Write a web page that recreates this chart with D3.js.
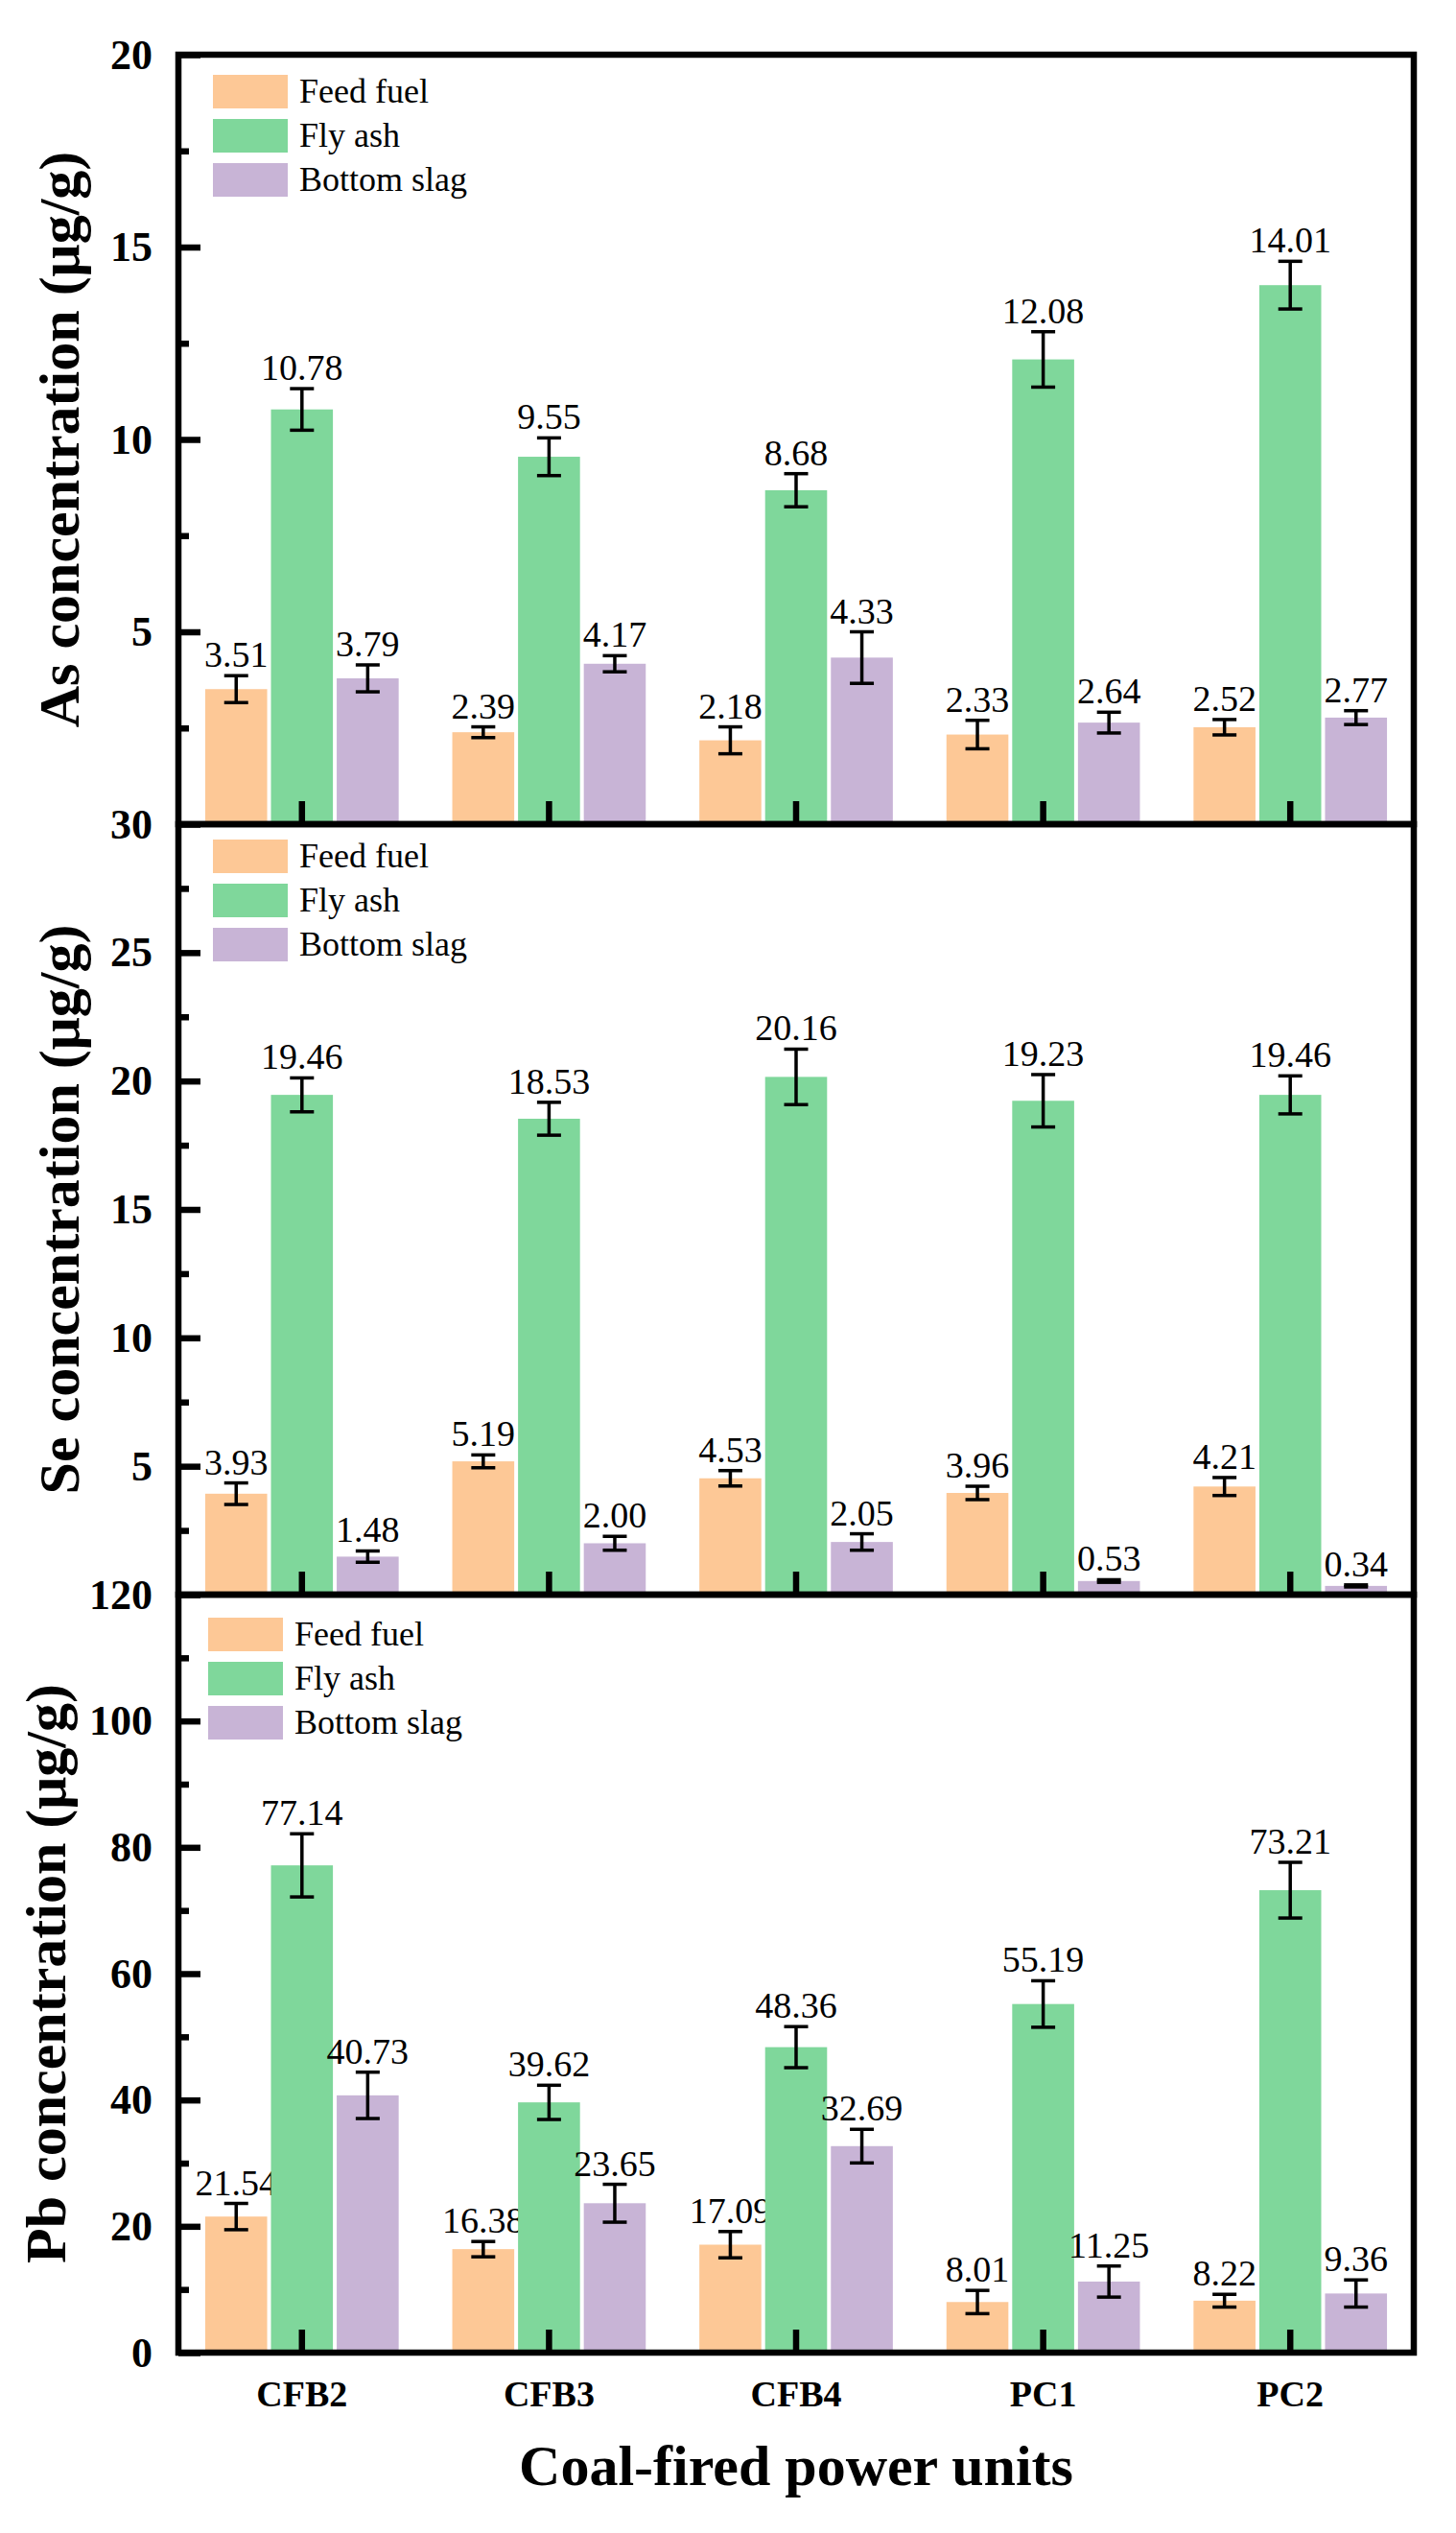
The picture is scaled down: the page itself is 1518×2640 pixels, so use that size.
<!DOCTYPE html>
<html>
<head>
<meta charset="utf-8">
<script src="https://cdn.jsdelivr.net/npm/d3@7"></script>
<style>
  body { margin: 0; background: #fff; }
  svg text { font-family: "Times New Roman", "Liberation Serif", serif; }
</style>
</head>
<body>
<svg class="chart"></svg>
<script>
// Data
const categories = ["CFB2", "CFB3", "CFB4", "PC1", "PC2"];
const seriesNames = ["Feed fuel", "Fly ash", "Bottom slag"];
const colors = ["#FDC896", "#7FD79B", "#C8B4D6"];

// rows: Feed fuel, Fly ash, Bottom slag
const asValues = [
  [3.51, 2.39, 2.18, 2.33, 2.52],
  [10.78, 9.55, 8.68, 12.08, 14.01],
  [3.79, 4.17, 4.33, 2.64, 2.77]
];
const asErrors = [
  [0.35, 0.14, 0.35, 0.37, 0.20],
  [0.54, 0.49, 0.43, 0.72, 0.62],
  [0.35, 0.21, 0.67, 0.27, 0.18]
];
const seValues = [
  [3.93, 5.19, 4.53, 3.96, 4.21],
  [19.46, 18.53, 20.16, 19.23, 19.46],
  [1.48, 2.00, 2.05, 0.53, 0.34]
];
const seErrors = [
  [0.42, 0.25, 0.30, 0.26, 0.35],
  [0.66, 0.64, 1.08, 1.02, 0.74],
  [0.22, 0.27, 0.32, 0.05, 0.04]
];
const pbValues = [
  [21.54, 16.38, 17.09, 8.01, 8.22],
  [77.14, 39.62, 48.36, 55.19, 73.21],
  [40.73, 23.65, 32.69, 11.25, 9.36]
];
const pbErrors = [
  [2.08, 1.21, 2.08, 1.84, 1.01],
  [5.00, 2.71, 3.25, 3.68, 4.41],
  [3.67, 3.00, 2.66, 2.46, 2.15]
];

const asTicks = [5, 10, 15, 20];
const seTicks = [5, 10, 15, 20, 25, 30];
const pbTicks = [0, 20, 40, 60, 80, 100, 120];
const asMinor = [2.5, 7.5, 12.5, 17.5];
const seMinor = [2.5, 7.5, 12.5, 17.5, 22.5, 27.5];
const pbMinor = [10, 30, 50, 70, 90, 110];

// Layout
const width = 1518, height = 2640;
const left = 186, right = 1474;
const serif = '"Times New Roman", "Liberation Serif", serif';

const panels = [
  { title: "As concentration (μg/g)", values: asValues, errors: asErrors, max: 20, ticks: asTicks, minor: asMinor,
    top: 57, bottom: 859, titleX: 82, legendX: 222, legendY: 78, showX: false },
  { title: "Se concentration (μg/g)", values: seValues, errors: seErrors, max: 30, ticks: seTicks, minor: seMinor,
    top: 859, bottom: 1662, titleX: 82, legendX: 222, legendY: 875, showX: false },
  { title: "Pb concentration (μg/g)", values: pbValues, errors: pbErrors, max: 120, ticks: pbTicks, minor: pbMinor,
    top: 1662, bottom: 2452, titleX: 68, legendX: 217, legendY: 1686, showX: true }
];

const svg = d3.select(".chart").attr("width", width).attr("height", height).attr("font-family", serif);
svg.append("rect").attr("width", width).attr("height", height).attr("fill", "#fff");

const x0 = d3.scaleBand().domain(categories).range([left, right]).paddingInner(0.217).paddingOuter(0.1085);
const x1 = d3.scaleBand().domain(seriesNames).range([0, x0.bandwidth()]).paddingInner(0.058);

panels.forEach(p => {
  const y = d3.scaleLinear().domain([0, p.max]).range([p.bottom, p.top]);
  const g = svg.append("g");

  // bars
  seriesNames.forEach((s, si) => {
    const bx = c => x0(c) + x1(s);
    g.append("g").selectAll("rect").data(categories).join("rect")
      .attr("x", c => bx(c))
      .attr("width", x1.bandwidth())
      .attr("y", (c, i) => y(p.values[si][i]))
      .attr("height", (c, i) => y(0) - y(p.values[si][i]))
      .attr("fill", colors[si]);

    // error bars
    const eg = g.append("g").attr("stroke", "#000").attr("stroke-width", 3.5);
    categories.forEach((c, i) => {
      const cx = bx(c) + x1.bandwidth() / 2;
      const v = p.values[si][i], e = p.errors[si][i];
      eg.append("line").attr("x1", cx).attr("x2", cx).attr("y1", y(v + e)).attr("y2", y(v - e));
      eg.append("line").attr("x1", cx - 12.5).attr("x2", cx + 12.5).attr("y1", y(v + e)).attr("y2", y(v + e));
      eg.append("line").attr("x1", cx - 12.5).attr("x2", cx + 12.5).attr("y1", y(v - e)).attr("y2", y(v - e));
    });

    // value labels
    g.append("g").selectAll("text").data(categories).join("text")
      .attr("x", c => bx(c) + x1.bandwidth() / 2)
      .attr("y", (c, i) => y(p.values[si][i] + p.errors[si][i]) - 9)
      .attr("text-anchor", "middle")
      .attr("font-family", serif)
      .attr("font-size", 38)
      .text((c, i) => p.values[si][i].toFixed(2));
  });

  // y axis major + minor ticks
  const yAxis = g.append("g").attr("transform", `translate(${left},0)`)
    .call(d3.axisLeft(y).tickValues(p.ticks).tickSize(-23).tickPadding(27).tickFormat(d3.format("d")));
  yAxis.attr("font-family", serif);
  yAxis.selectAll("text").attr("font-family", serif).attr("font-size", 44).attr("font-weight", "bold").attr("fill", "#000");
  g.append("g").attr("transform", `translate(${left},0)`)
    .call(d3.axisLeft(y).tickValues(p.minor).tickSize(-11).tickFormat(""));

  // x axis ticks
  const xAxis = g.append("g").attr("transform", `translate(0,${p.bottom})`)
    .call(d3.axisBottom(x0).tickSize(-24).tickPadding(29).tickFormat(p.showX ? d => d : ""));
  xAxis.attr("font-family", serif);
  xAxis.selectAll("text").attr("font-family", serif).attr("font-size", 38).attr("font-weight", "bold").attr("fill", "#000");

  g.selectAll(".domain").remove();
  g.selectAll(".tick line").attr("stroke", "#000").attr("stroke-width", 6.5);

  // frame
  g.append("rect").attr("x", left).attr("y", p.top)
    .attr("width", right - left).attr("height", p.bottom - p.top)
    .attr("fill", "none").attr("stroke", "#000").attr("stroke-width", 6.5);

  // y title
  g.append("text")
    .attr("transform", `translate(${p.titleX},${(p.top + p.bottom) / 2}) rotate(-90)`)
    .attr("text-anchor", "middle")
    .attr("font-family", serif)
    .attr("font-size", 60).attr("font-weight", "bold")
    .text(p.title);

  // legend
  const lg = g.append("g").attr("transform", `translate(${p.legendX},${p.legendY})`);
  seriesNames.forEach((s, si) => {
    lg.append("rect").attr("x", 0).attr("y", si * 46).attr("width", 78).attr("height", 35).attr("fill", colors[si]);
    lg.append("text").attr("x", 90).attr("y", si * 46 + 29).attr("font-family", serif).attr("font-size", 36).text(s);
  });
});

// x title
svg.append("text")
  .attr("x", (left + right) / 2).attr("y", 2590)
  .attr("text-anchor", "middle")
  .attr("font-family", serif)
  .attr("font-size", 60).attr("font-weight", "bold")
  .text("Coal-fired power units");
</script>
</body>
</html>
